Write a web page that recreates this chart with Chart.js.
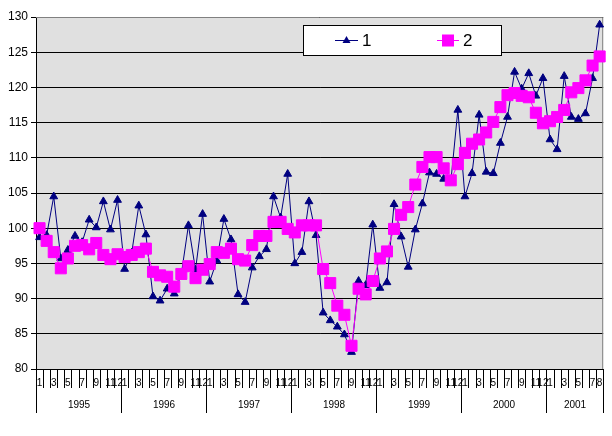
<!DOCTYPE html>
<html>
<head>
<meta charset="utf-8">
<script src="https://cdn.jsdelivr.net/npm/chart.js@4.4.0/dist/chart.umd.min.js"></script>
<style>
  html, body { margin: 0; padding: 0; background: #ffffff; }
  #wrap { width: 612px; height: 436px; position: relative; }
</style>
</head>
<body>
<div id="wrap"><canvas id="chart" width="612" height="436"></canvas></div>
<script>
// Monthly index values, Jan 1995 - Aug 2001
const years = ['1995', '1996', '1997', '1998', '1999', '2000', '2001'];
const monthsPerYear = [12, 12, 12, 12, 12, 12, 8];

const series1 = [
  98.7, 99.0, 104.5, 95.7, 96.9, 98.9, 98.0, 101.2, 100.1, 103.8, 99.8, 104.0,
  94.2, 96.5, 103.2, 99.1, 90.3, 89.7, 91.4, 90.7, 93.5, 100.4, 94.1, 102.0,
  92.4, 95.4, 101.3, 98.4, 90.6, 89.5, 94.4, 96.0, 97.0, 104.5, 101.5, 107.7,
  95.0, 96.6, 103.8, 99.0, 88.0, 86.9, 86.0, 84.9, 82.4, 92.5, 91.9, 100.5,
  91.5, 92.3, 103.4, 98.8, 94.5, 99.8, 103.5, 107.9, 107.7, 107.0, 106.5, 116.8,
  104.5, 107.8, 116.1, 108.0, 107.8, 112.1, 115.8, 122.2, 119.8, 122.0, 118.8, 121.3,
  112.6, 111.2, 121.6, 115.8, 115.5, 116.3, 121.3, 128.9
];

const series2 = [
  100.0, 98.2, 96.6, 94.3, 95.7, 97.5, 97.6, 97.0, 97.9, 96.2, 95.6, 96.3,
  95.9, 96.2, 96.6, 97.1, 93.8, 93.3, 93.1, 91.7, 93.5, 94.6, 92.9, 94.1,
  94.9, 96.6, 96.5, 97.1, 95.6, 95.4, 97.6, 98.9, 98.9, 100.9, 100.9, 99.9,
  99.4, 100.4, 100.4, 100.4, 94.2, 92.2, 89.0, 87.7, 83.3, 91.4, 90.6, 92.5,
  95.7, 96.7, 99.9, 101.9, 103.0, 106.2, 108.7, 110.1, 110.1, 108.5, 106.8, 109.1,
  110.7, 112.0, 112.6, 113.6, 115.1, 117.2, 118.9, 119.2, 118.8, 118.6, 116.4, 114.9,
  115.2, 115.8, 116.8, 119.3, 119.9, 121.0, 123.1, 124.4
];

const seriesNames = ['1', '2'];
const yMin = 80;
const yMax = 130;
const yStep = 5;

// build month labels and year groups
const monthLabels = [];
const lastInYear = [];
const yearGroups = [];
years.forEach((year, yi) => {
  const start = monthLabels.length;
  for (let m = 1; m <= monthsPerYear[yi]; m++) {
    monthLabels.push(String(m));
    lastInYear.push(m === monthsPerYear[yi]);
  }
  yearGroups.push({ label: year, start: start, end: monthLabels.length - 1 });
});

const FONT = "'Liberation Sans', Arial, sans-serif";

/**
 * Gray plot background and grey frame on top/right
 */
const plotFrame = {
  id: 'plotFrame',
  beforeDraw(chart) {
    const { ctx, chartArea: a } = chart;
    ctx.save();
    ctx.fillStyle = '#e0e0e0';
    ctx.fillRect(a.left, a.top, a.right - a.left, a.bottom - a.top);
    ctx.restore();
  },
  beforeDatasetsDraw(chart) {
    const { ctx, chartArea: a } = chart;
    ctx.save();
    ctx.strokeStyle = '#808080';
    ctx.lineWidth = 1;
    ctx.beginPath();
    ctx.moveTo(a.left, a.top + 0.5);
    ctx.lineTo(a.right - 0.5, a.top + 0.5);
    ctx.lineTo(a.right - 0.5, a.bottom);
    ctx.stroke();
    ctx.restore();
  },
};

/**
 * Month tick marks, year separators and year labels under the x axis
 */
const yearAxis = {
  id: 'yearAxis',
  afterDraw(chart) {
    const { ctx, chartArea: a } = chart;
    const x = chart.scales.x;
    const step = x.getPixelForValue(1) - x.getPixelForValue(0);
    const edge = (i) => Math.round(x.getPixelForValue(i) - step / 2) + 0.5;
    const base = a.bottom;

    ctx.save();
    ctx.strokeStyle = '#000000';
    ctx.lineWidth = 1;
    ctx.beginPath();
    for (let i = 0; i <= monthLabels.length; i++) {
      const px = edge(i);
      ctx.moveTo(px, base);
      ctx.lineTo(px, base + 19);
    }
    yearGroups.forEach((g) => {
      ctx.moveTo(edge(g.start), base);
      ctx.lineTo(edge(g.start), base + 44);
    });
    ctx.moveTo(edge(monthLabels.length), base);
    ctx.lineTo(edge(monthLabels.length), base + 44);
    ctx.stroke();

    ctx.fillStyle = '#000000';
    ctx.font = `10px ${FONT}`;
    ctx.textAlign = 'center';
    ctx.textBaseline = 'middle';
    yearGroups.forEach((g) => {
      const mid = (edge(g.start) + edge(g.end + 1)) / 2;
      ctx.fillText(g.label, mid, base + 36);
    });
    ctx.restore();
  },
};

/**
 * Boxed legend inside the plot area
 */
const boxLegend = {
  id: 'boxLegend',
  afterDraw(chart) {
    const { ctx } = chart;
    const box = { left: 303.5, top: 25.5, width: 198, height: 30 };
    const cy = box.top + box.height / 2;
    ctx.save();
    ctx.fillStyle = '#ffffff';
    ctx.fillRect(box.left, box.top, box.width, box.height);
    ctx.strokeStyle = '#000000';
    ctx.lineWidth = 1;
    ctx.strokeRect(box.left, box.top, box.width, box.height);

    const entries = [
      { ds: chart.data.datasets[0], x0: 335, x1: 358, tx: 362 },
      { ds: chart.data.datasets[1], x0: 437, x1: 459, tx: 463 },
    ];
    entries.forEach((e) => {
      const color = e.ds.borderColor;
      const mx = (e.x0 + e.x1) / 2;
      ctx.strokeStyle = color;
      ctx.beginPath();
      ctx.moveTo(e.x0, cy);
      ctx.lineTo(e.x1, cy);
      ctx.stroke();
      ctx.fillStyle = color;
      if (e.ds.pointStyle === 'triangle') {
        ctx.beginPath();
        ctx.moveTo(mx, cy - 4.5);
        ctx.lineTo(mx + 4, cy + 2.5);
        ctx.lineTo(mx - 4, cy + 2.5);
        ctx.closePath();
        ctx.fill();
      } else {
        ctx.fillRect(mx - 6, cy - 6, 12, 12);
      }
      ctx.fillStyle = '#000000';
      ctx.font = `17px ${FONT}`;
      ctx.textAlign = 'left';
      ctx.textBaseline = 'middle';
      ctx.fillText(e.ds.label, e.tx, cy + 1);
    });
    ctx.restore();
  },
};

const ctx = document.getElementById('chart').getContext('2d');
new Chart(ctx, {
  type: 'line',
  data: {
    labels: monthLabels,
    datasets: [
      {
        label: seriesNames[0],
        data: series1,
        borderColor: '#000080',
        backgroundColor: '#000080',
        borderWidth: 1,
        pointStyle: 'triangle',
        pointRadius: 4.5,
        pointBorderWidth: 1,
        pointBackgroundColor: '#000080',
        pointBorderColor: '#000080',
        tension: 0,
        order: 1,
      },
      {
        label: seriesNames[1],
        data: series2,
        borderColor: '#ff00ff',
        backgroundColor: '#ff00ff',
        borderWidth: 1,
        pointStyle: 'rect',
        pointRadius: 7.8,
        pointBorderWidth: 1,
        pointBackgroundColor: '#ff00ff',
        pointBorderColor: '#ff00ff',
        tension: 0,
        order: 0,
      },
    ],
  },
  options: {
    responsive: false,
    animation: false,
    devicePixelRatio: 1,
    layout: { padding: { top: 17, right: 4, left: 0, bottom: 0 } },
    plugins: {
      legend: { display: false },
      tooltip: { enabled: false },
    },
    scales: {
      x: {
        type: 'category',
        offset: true,
        grid: { display: false },
        border: { display: true, color: '#000000', width: 1 },
        ticks: {
          autoSkip: false,
          maxRotation: 0,
          minRotation: 0,
          padding: 0,
          color: '#000000',
          font: { size: 10, family: FONT },
          callback: (value, index) => {
            const m = Number(monthLabels[index]);
            return (m % 2 === 1 || lastInYear[index]) ? monthLabels[index] : '';
          },
        },
        afterFit: (scale) => { scale.height = 67; },
      },
      y: {
        min: yMin,
        max: yMax,
        grid: {
          color: '#000000',
          lineWidth: 1,
          tickLength: 5,
          drawTicks: true,
        },
        border: { display: true, color: '#000000', width: 1 },
        ticks: {
          stepSize: yStep,
          padding: 3,
          color: '#000000',
          font: { size: 12, family: FONT },
        },
        afterFit: (scale) => { scale.width = 36; },
      },
    },
  },
  plugins: [plotFrame, yearAxis, boxLegend],
});
</script>
</body>
</html>
